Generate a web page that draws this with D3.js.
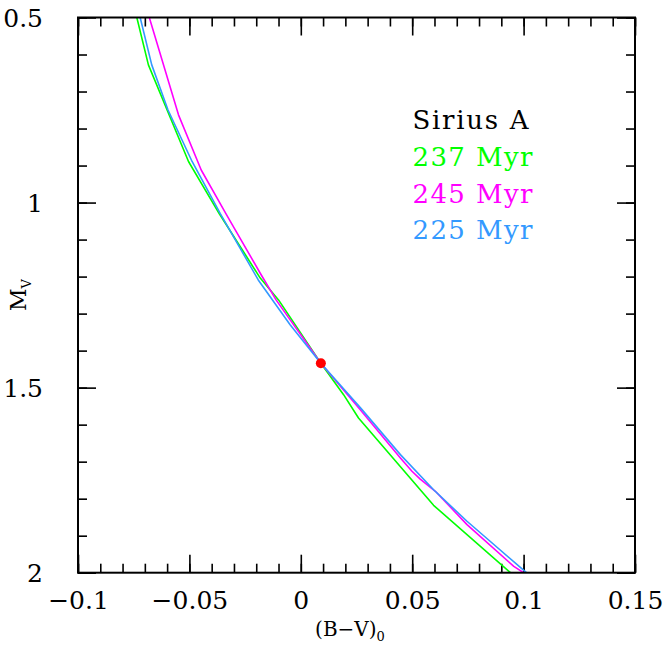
<!DOCTYPE html>
<html>
<head>
<meta charset="utf-8">
<script src="https://cdn.jsdelivr.net/npm/d3@7"></script>
<style>
  html, body { margin: 0; padding: 0; background: #fff; }
  svg { display: block; }
</style>
</head>
<body>
<svg id="chart" width="667" height="645"></svg>
<script>
// Isochrones in the colour-magnitude plane: [(B-V)_0, M_V]
const iso237 = [
  [-0.0736, 0.500], [-0.0684, 0.628], [-0.0504, 0.889], [-0.0365, 1.031],
  [-0.0182, 1.204], [-0.0100, 1.263], [0.0090, 1.434], [0.0192, 1.519],
  [0.0259, 1.582], [0.0596, 1.818], [0.0941, 2.000]
];
const iso245 = [
  [-0.0680, 0.500], [-0.0549, 0.763], [-0.0447, 0.912], [-0.0335, 1.031],
  [-0.0182, 1.191], [-0.0111, 1.263], [0.0090, 1.434], [0.0267, 1.560],
  [0.0447, 1.690], [0.0499, 1.726], [0.0536, 1.747], [0.0604, 1.780],
  [0.0746, 1.870], [0.0956, 1.983], [0.1000, 2.000]
];
const iso225 = [
  [-0.0721, 0.500], [-0.0669, 0.628], [-0.0596, 0.750], [-0.0488, 0.889],
  [-0.0362, 1.029], [-0.0191, 1.209], [-0.0048, 1.330], [0.0090, 1.434],
  [0.0267, 1.554], [0.0447, 1.681], [0.0596, 1.776], [0.0746, 1.861],
  [0.1013, 2.000]
];
const star = [0.009, 1.434];

const seriesNames = ["237 Myr", "245 Myr", "225 Myr"];
const seriesColors = ["#00ff00", "#ff00ff", "#3399ff"];
const starName = "Sirius A";

const xMajor = [-0.1, -0.05, 0, 0.05, 0.1, 0.15];
const yMajor = [0.5, 1, 1.5, 2];
const xDomain = [-0.1, 0.15];
const yDomain = [0.5, 2];

const svg = d3.select("#chart");
const W = 667, H = 645;
const m = { left: 78, right: 32, top: 17.5, bottom: 72.3 };
const x = d3.scaleLinear().domain(xDomain).range([m.left, W - m.right]);
const y = d3.scaleLinear().domain(yDomain).range([m.top, H - m.bottom]);

svg.append("rect").attr("width", W).attr("height", H).attr("fill", "#fff");

const tickFont = "DejaVu Serif";
const fmt = d3.format("~g");

// minor tick positions
const xMinor = d3.range(-100, 151, 10).map(v => v / 1000);
const yMinor = d3.range(5, 21, 1).map(v => v / 10);

const frame = svg.append("g");
const major = 18, minor = 9;

// bottom / top axes (ticks point inward)
const xb = d3.axisBottom(x).tickValues(xMajor).tickSizeInner(-major).tickSizeOuter(0).tickPadding(major + 13).tickFormat(fmt);
const gxb = frame.append("g").attr("transform", `translate(0,${y(2)})`).call(xb);
frame.append("g").attr("transform", `translate(0,${y(2)})`)
  .call(d3.axisBottom(x).tickValues(xMinor).tickSizeInner(-minor).tickSizeOuter(0).tickFormat(""));
frame.append("g").attr("transform", `translate(0,${y(0.5)})`)
  .call(d3.axisTop(x).tickValues(xMajor).tickSizeInner(-major).tickSizeOuter(0).tickFormat(""));
frame.append("g").attr("transform", `translate(0,${y(0.5)})`)
  .call(d3.axisTop(x).tickValues(xMinor).tickSizeInner(-minor).tickSizeOuter(0).tickFormat(""));

// left / right axes
const yl = d3.axisLeft(y).tickValues(yMajor).tickSizeInner(-major).tickSizeOuter(0).tickPadding(major + 17).tickFormat(fmt);
const gyl = frame.append("g").attr("transform", `translate(${x(-0.1)},0)`).call(yl);
frame.append("g").attr("transform", `translate(${x(-0.1)},0)`)
  .call(d3.axisLeft(y).tickValues(yMinor).tickSizeInner(-minor).tickSizeOuter(0).tickFormat(""));
frame.append("g").attr("transform", `translate(${x(0.15)},0)`)
  .call(d3.axisRight(y).tickValues(yMajor).tickSizeInner(-major).tickSizeOuter(0).tickFormat(""));
frame.append("g").attr("transform", `translate(${x(0.15)},0)`)
  .call(d3.axisRight(y).tickValues(yMinor).tickSizeInner(-minor).tickSizeOuter(0).tickFormat(""));

frame.selectAll(".domain").remove();
frame.selectAll(".tick line").attr("stroke", "#000").attr("stroke-width", 1.6);
frame.selectAll(".tick text")
  .attr("font-family", tickFont).attr("font-size", 25).attr("fill", "#000");
gxb.selectAll(".tick text").attr("dy", "0.2em");
gyl.selectAll(".tick text").attr("dy", "0.36em");

// curves
const clipId = "plot-clip";
svg.append("clipPath").attr("id", clipId).append("rect")
  .attr("x", x(-0.1)).attr("y", y(0.5))
  .attr("width", x(0.15) - x(-0.1)).attr("height", y(2) - y(0.5));

const line = d3.line().x(d => x(d[0])).y(d => y(d[1]));
const curves = svg.append("g").attr("clip-path", `url(#${clipId})`);
[iso237, iso245, iso225].forEach((s, i) => {
  curves.append("path").datum(s)
    .attr("d", line).attr("fill", "none")
    .attr("stroke", seriesColors[i]).attr("stroke-width", 1.6)
    .attr("stroke-linejoin", "round");
});

// the star
svg.append("circle")
  .attr("cx", x(star[0])).attr("cy", y(star[1])).attr("r", 5)
  .attr("fill", "#ff0000");

// plot frame
svg.append("rect")
  .attr("x", x(-0.1)).attr("y", y(0.5))
  .attr("width", x(0.15) - x(-0.1)).attr("height", y(2) - y(0.5))
  .attr("fill", "none").attr("stroke", "#000").attr("stroke-width", 2);

// legend
const legend = svg.append("g").attr("font-family", "DejaVu Serif").attr("font-size", 26);
const legendRows = [[starName, "#000"]].concat(seriesNames.map((n, i) => [n, seriesColors[i]]));
legendRows.forEach((r, i) => {
  legend.append("text")
    .attr("x", 412.5).attr("y", 129.3 + i * 36.7)
    .attr("fill", r[1])
    .attr("textLength", i === 0 ? 116 : 120).attr("lengthAdjust", "spacing")
    .text(r[0]);
});

// axis titles
const xt = svg.append("text")
  .attr("x", 350).attr("y", 636)
  .attr("text-anchor", "middle")
  .attr("font-family", tickFont).attr("font-size", 20).attr("fill", "#000");
xt.append("tspan").text("(B\u2212V)");
xt.append("tspan").attr("font-size", 13).attr("dy", 5).text("0");

const yt = svg.append("text")
  .attr("transform", `translate(26,295) rotate(-90)`)
  .attr("text-anchor", "middle")
  .attr("font-family", tickFont).attr("font-size", 22).attr("fill", "#000");
yt.append("tspan").text("M");
yt.append("tspan").attr("font-size", 13).attr("dy", 5).text("V");
</script>
</body>
</html>
